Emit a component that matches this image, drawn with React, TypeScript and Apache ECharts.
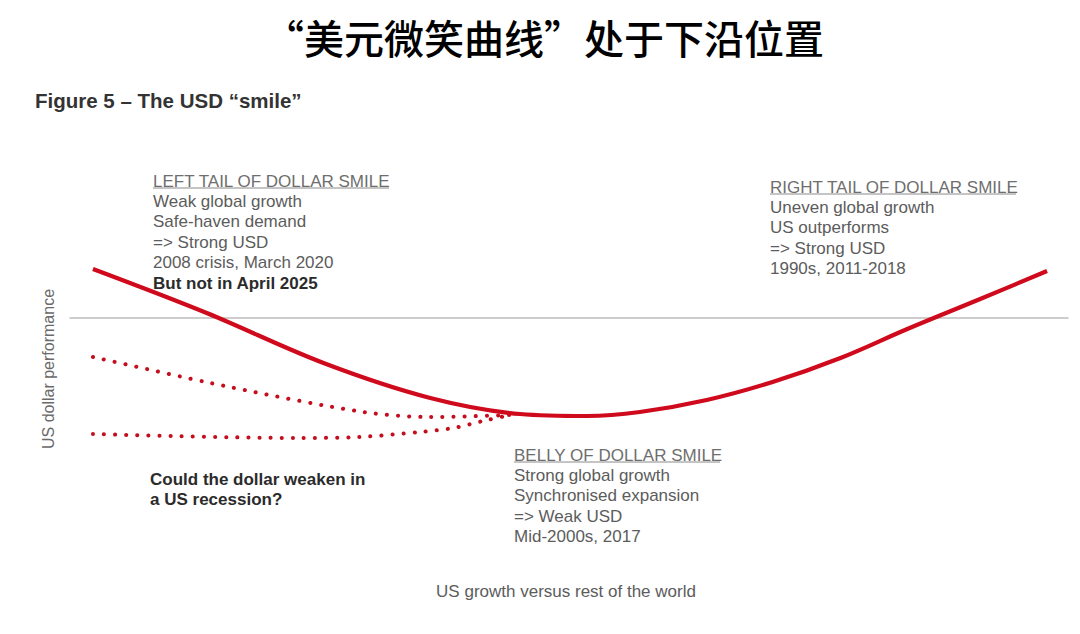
import { useEffect, useRef } from "react";
import * as echarts from "echarts";

// solid smile curve, x = position on growth axis (0..100), y = USD performance (0 = grey line)
const smileX = [2.3, 13.7, 25.4, 36.1, 45.1, 51.8, 57.1, 63.8, 70.4, 77.2, 83.9, 91.2, 97.9];
const smileY = [4.9, 0.5, -4.5, -8.0, -9.6, -9.8, -9.4, -8.2, -6.4, -4.0, -1.1, 1.9, 4.7];
// dotted alternatives on the left tail
const upperX = [2.3, 16.0, 29.4, 36.1, 44.1];
const upperY = [-3.9, -6.9, -9.4, -9.9, -9.7];
const lowerX = [2.3, 22.7, 29.0, 35.1, 38.4, 41.8, 44.1];
const lowerY = [-11.6, -12.0, -11.9, -11.4, -11.0, -10.2, -9.7];

const leftTail = ["Weak global growth", "Safe-haven demand", "=> Strong USD", "2008 crisis, March 2020"];
const rightTail = ["Uneven global growth", "US outperforms", "=> Strong USD", "1990s, 2011-2018"];
const belly = ["Strong global growth", "Synchronised expansion", "=> Weak USD", "Mid-2000s, 2017"];

const SANS = "'Liberation Sans', Arial, sans-serif";
const LINE_H = 20.4;

const pairs = (xs: number[], ys: number[]) => xs.map((x, i) => [x, ys[i]]);

const txt = (x: number, y: number, text: string, extra: any = {}) => ({
  type: "text",
  x,
  y,
  style: {
    text,
    fontFamily: SANS,
    fontSize: 17,
    fill: "#5c5c5c",
    align: "left",
    textAlign: "left",
    verticalAlign: "middle",
    textVerticalAlign: "middle",
    ...extra,
  },
});

const block = (x: number, y: number, header: string, lines: string[], underline: number) => [
  txt(x, y, header, { fill: "#6e6e6e" }),
  {
    type: "line",
    shape: { x1: x, y1: y + 7, x2: x + underline, y2: y + 7 },
    style: { stroke: "#8a8a8a", lineWidth: 1 },
  },
  ...lines.map((l, i) => txt(x, y + LINE_H * (i + 1), l)),
];

export default function App() {
  const ref = useRef<HTMLDivElement | null>(null);

  useEffect(() => {
    if (!ref.current) return;
    const chart = echarts.init(ref.current, null, { renderer: "svg" });

    const red = "#cf0a1c";
    const dotted = {
      color: "#c40d1d",
      width: 4,
      type: [0.1, 11],
      cap: "round",
    };

    chart.setOption({
      animation: false,
      backgroundColor: "#ffffff",
      grid: { left: 70, right: 12, top: 218, bottom: 186 },
      xAxis: {
        type: "value",
        min: 0,
        max: 100,
        axisLine: { onZero: true, lineStyle: { color: "#bdbdbd", width: 1.5 } },
        axisTick: { show: false },
        axisLabel: { show: false },
        splitLine: { show: false },
      },
      yAxis: {
        type: "value",
        min: -13,
        max: 10,
        axisLine: { show: false },
        axisTick: { show: false },
        axisLabel: { show: false },
        splitLine: { show: false },
      },
      series: [
        { type: "line", data: pairs(upperX, upperY), symbol: "none", smooth: 0.3, lineStyle: dotted },
        { type: "line", data: pairs(lowerX, lowerY), symbol: "none", smooth: 0.3, lineStyle: dotted },
        {
          type: "line",
          data: pairs(smileX, smileY),
          symbol: "none",
          smooth: 0.35,
          lineStyle: { color: red, width: 4.2 },
          z: 3,
        },
      ],
      graphic: [
        {
          type: "text",
          x: 544,
          y: 37,
          style: {
            text: "“美元微笑曲线”处于下沿位置",
            fontFamily: "'Noto Sans CJK SC', sans-serif",
            fontSize: 40,
            fontWeight: 500,
            fill: "#000",
            align: "center",
            textAlign: "center",
            verticalAlign: "middle",
            textVerticalAlign: "middle",
          },
        },
        txt(35, 100, "Figure 5 – The USD “smile”", { fontSize: 20.5, fontWeight: "bold", fill: "#333" }),
        ...block(153, 181, "LEFT TAIL OF DOLLAR SMILE", leftTail, 236),
        txt(153, 181 + LINE_H * 5, "But not in April 2025", { fontWeight: "bold", fill: "#2b2b2b" }),
        ...block(770, 187, "RIGHT TAIL OF DOLLAR SMILE", rightTail, 246),
        ...block(514, 455, "BELLY OF DOLLAR SMILE", belly, 206),
        txt(150, 479, "Could the dollar weaken in", { fontWeight: "bold", fill: "#2b2b2b" }),
        txt(150, 499, "a US recession?", { fontWeight: "bold", fill: "#2b2b2b" }),
        txt(566, 591, "US growth versus rest of the world", { align: "center", textAlign: "center" }),
        {
          type: "text",
          x: 48,
          y: 369,
          rotation: Math.PI / 2,
          style: {
            text: "US dollar performance",
            fontFamily: SANS,
            fontSize: 16,
            fill: "#6a6a6a",
            align: "center",
            textAlign: "center",
            verticalAlign: "middle",
            textVerticalAlign: "middle",
          },
        },
      ],
    });

    return () => chart.dispose();
  }, []);

  return (
    <div
      ref={ref}
      style={{ position: "absolute", left: 0, top: 0, width: 1080, height: 634, background: "#fff" }}
    />
  );
}
